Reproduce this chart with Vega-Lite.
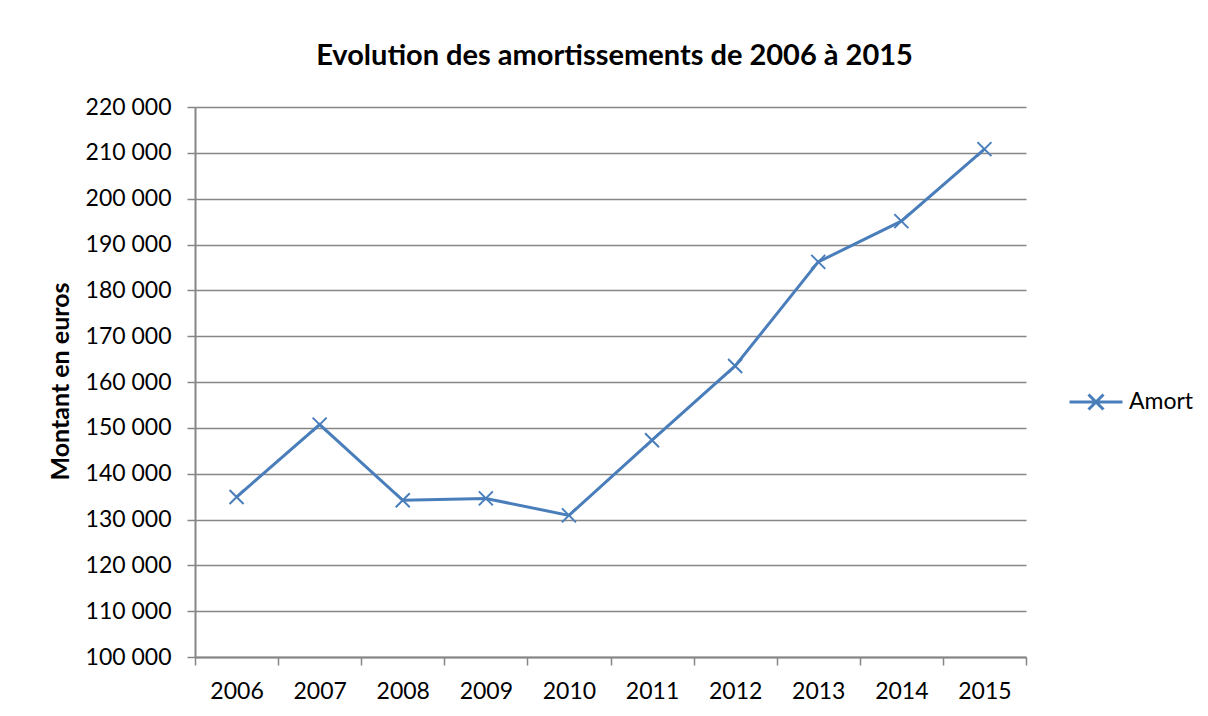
{
  "$schema": "https://vega.github.io/schema/vega-lite/v6.json",
  "width": 831,
  "height": 550,
  "autosize": {"type": "none"},
  "padding": {"left": 195, "top": 107, "right": 182, "bottom": 59},
  "background": "white",
  "title": {
    "text": "Evolution des amortissements de 2006 à 2015",
    "font": "Lato",
    "fontSize": 29,
    "fontWeight": "bold",
    "color": "black",
    "anchor": "middle",
    "frame": "group",
    "baseline": "alphabetic",
    "offset": 2,
    "dx": 4
  },
  "data": {
    "values": [
      {"annee": "2006", "montant": 134900, "serie": "Amort"},
      {"annee": "2007", "montant": 150700, "serie": "Amort"},
      {"annee": "2008", "montant": 134200, "serie": "Amort"},
      {"annee": "2009", "montant": 134600, "serie": "Amort"},
      {"annee": "2010", "montant": 130900, "serie": "Amort"},
      {"annee": "2011", "montant": 147300, "serie": "Amort"},
      {"annee": "2012", "montant": 163500, "serie": "Amort"},
      {"annee": "2013", "montant": 186200, "serie": "Amort"},
      {"annee": "2014", "montant": 195100, "serie": "Amort"},
      {"annee": "2015", "montant": 210800, "serie": "Amort"}
    ]
  },
  "encoding": {
    "x": {
      "field": "annee",
      "type": "ordinal",
      "bandPosition": 0.5,
      "scale": {"type": "band", "paddingInner": 0, "paddingOuter": 0},
      "axis": {
        "title": null,
        "tickBand": "extent",
        "labelAngle": 0,
        "labelFont": "Lato",
        "labelFontSize": 23,
        "labelColor": "black",
        "labelPadding": 15,
        "domainColor": "#868686",
        "domainWidth": 2,
        "tickColor": "#868686",
        "tickWidth": 1.5,
        "tickSize": 8,
        "grid": false
      }
    },
    "y": {
      "field": "montant",
      "type": "quantitative",
      "scale": {"domain": [100000, 220000], "nice": false, "zero": false},
      "axis": {
        "values": [100000, 110000, 120000, 130000, 140000, 150000, 160000, 170000, 180000, 190000, 200000, 210000, 220000],
        "labelExpr": "replace(format(datum.value, ','), ',', ' ')",
        "title": "Montant en euros",
        "titleFont": "Lato",
        "titleFontSize": 25,
        "titleFontWeight": "bold",
        "titleColor": "black",
        "titleX": -135,
        "titleY": 274,
        "titleAngle": -90,
        "titleAlign": "center",
        "titleBaseline": "middle",
        "labelFont": "Lato",
        "labelFontSize": 23,
        "labelColor": "black",
        "labelPadding": 16,
        "domainColor": "#868686",
        "domainWidth": 2,
        "tickColor": "#868686",
        "tickWidth": 1.5,
        "tickSize": 8,
        "grid": true,
        "gridColor": "#868686",
        "gridWidth": 1.5
      }
    }
  },
  "layer": [
    {
      "mark": {"type": "line", "strokeWidth": 3},
      "encoding": {
        "color": {
          "field": "serie",
          "type": "nominal",
          "scale": {"range": ["#4A7EBB"]},
          "legend": {
            "title": null,
            "orient": "none",
            "legendX": 873,
            "legendY": 267,
            "padding": 0,
            "symbolType": "M-1,0L1,0M-0.283,-0.283L0.283,0.283M0.283,-0.283L-0.283,0.283",
            "symbolSize": 2809,
            "symbolStrokeWidth": 3,
            "symbolFillColor": "transparent",
            "labelFont": "Lato",
            "labelFontSize": 23,
            "labelColor": "black",
            "labelOffset": 5
          }
        }
      }
    },
    {
      "mark": {
        "type": "point",
        "shape": "M-1,-1L1,1M1,-1L-1,1",
        "filled": false,
        "size": 196,
        "strokeWidth": 2,
        "color": "#4A7EBB",
        "opacity": 1
      }
    }
  ],
  "config": {
    "view": {"stroke": null}
  }
}
